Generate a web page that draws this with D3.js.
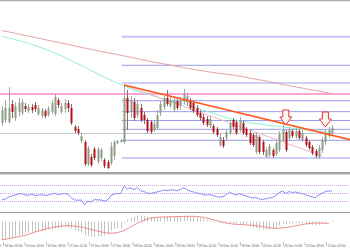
<!DOCTYPE html>
<html><head><meta charset="utf-8">
<script src="https://cdn.jsdelivr.net/npm/d3@7"></script>
<style>body{margin:0;background:#fff}svg{display:block}</style>
</head><body>
<svg id="c" width="350" height="250"></svg>
<script>
// ---- DATA ----
// candles: [open, high, low, close]
const candles = [
[677,694,674,690],[680,700,677,692],[678,713,676,692],[696,700,682,688],[682,698,679,694],
[688,702,684,697],[687,701,685,698],[694,697,688,691],[689,696,687,693],[693,696,687,690],
[695,698,688,691],[686,695,684,692],[684,692,682,690],[689,691,682,684],[685,694,683,691],
[688,700,686,697],[686,706,684,703],[700,702,692,695],[688,697,686,694],[691,701,687,697],
[697,700,688,692],[692,696,675,677],[673,675,667,669],[671,674,665,667],[659,667,657,664],
[658,660,634,636],[636,654,634,652],[643,646,633,635],[651,653,640,642],[638,653,636,651],
[642,652,639,650],[640,642,632,634],[638,640,631,632],[637,658,635,653],[644,660,640,658],
[657,660,656,659],[658,661,657,660],[658,715,656,702],[702,710,670,687],[688,704,682,700],
[698,702,679,682],[685,700,682,696],[692,696,678,680],[685,688,676,680],[680,682,667,669],
[678,680,666,668],[670,679,668,676],[672,690,670,685],[687,699,684,696],[693,704,690,702],
[702,710,694,696],[694,703,692,700],[690,702,688,699],[699,701,690,692],[694,703,690,700],
[698,711,696,706],[697,707,694,704],[700,702,690,692],[697,699,687,689],[692,695,683,685],
[687,690,680,682],[683,686,675,677],[681,684,673,675],[674,684,672,681],[674,676,666,668],
[671,673,663,665],[655,666,653,663],[660,663,652,654],[662,670,659,668],[667,680,665,677],
[680,682,671,673],[678,680,665,667],[670,683,668,680],[677,679,665,667],[671,673,663,665],
[667,670,655,657],[665,667,653,655],[648,667,646,665],[663,665,646,648],[658,660,645,648],
[643,653,642,650],[645,656,643,654],[650,652,642,644],[646,660,644,657],[650,669,648,666],
[660,675,658,670],[668,670,648,650],[662,673,660,670],[669,671,662,664],[663,672,661,669],
[669,671,660,662],[660,670,658,667],[662,664,653,655],[658,660,650,652],[653,655,645,647],
[649,651,642,644],[643,655,641,652],[650,663,647,660],[658,670,655,667],[664,673,662,670],
[667,675,665,672]
];
// moving averages, sampled every 5 candles
const maStep = 5;
const maSlow = [769.5,766,762.5,759,755.5,752,748.5,745.5,742,738.5,735.5,732.5,729.5,727,725,722,719,715.5,712.5,709.5,706.5];
const maFast = [763.5,759.5,754.5,748.5,741,733,724.5,717,710,705,700,696,691,685.5,680.5,677.5,675,673,671,669,667.5];
// fibonacci retracement
const fibRatios = [0,0.236,0.382,0.5,0.618,0.764,1,1.236,1.618];
const fibLow = 642, fibHigh = 717, fibStart = 36.3;
// horizontal levels
const pinkLevel = 706;
const grayLevel = 666.5;
// trend lines [ {i, p}, {i, p} ]
const trendMain = [{i:37,p:715},{i:106,p:660}];
const trendFaint = [{i:37,p:715},{i:97,p:644}];
// arrows (tip positions)
const arrows = [{i:86,p:675},{i:98,p:673}];
// RSI
const rsi = [34,36,41,44,46,49,50,46,46,48,45,46,47,45,46,48,51,47,49,50,48,39,34,33,34,22,31,29,35,34,34,31,34,45,49,50,50,69,61,64,59,65,57,55,51,50,52,54,56,59,57,59,59,57,60,64,60,56,54,51,50,47,46,47,45,42,41,42,47,54,49,46,50,46,44,41,39,40,36,35,37,39,40,45,52,56,50,55,52,54,51,50,46,44,41,40,46,51,55,56,56];
const rsiLevels = [70,50,30];
// MACD
const macd = [-18.5,-18,-17,-16,-15,-14,-13,-12,-11.5,-11,-10.5,-10,-9.5,-9,-8.5,-8,-7,-7,-6.5,-6,-6,-7,-8.5,-10,-11,-14,-14.5,-15.5,-15.5,-15,-15,-14,-13,-9,-7.5,-7,-6.5,-1,2,4,5,6,6,5.5,5,4.5,4,4,4.5,5,5,5,5,4.5,5,5.5,5.5,5,4.5,4,3.5,3,2,1.5,1,0,-1,-2,-2,-1.5,-1.5,-2,-2,-2.5,-3,-5,-6,-6.5,-7.5,-8,-8.5,-8,-7.5,-6,-4,-2.5,-3,-2,-2,-1.5,-2,-2,-2.5,-3,-3.5,-4,-3.5,-2.5,-1,0,0.5];
const signal = [-18.3,-17.8,-17.2,-16.5,-15.9,-15.3,-14.6,-13.8,-12.9,-11.8,-10.6,-9.6,-8.6,-7.7,-6.9,-6.2,-5.5,-5.0,-4.6,-4.3,-4.2,-4.3,-4.6,-5.0,-5.5,-6.3,-7.2,-8.0,-8.8,-9.6,-10.3,-11.0,-11.5,-11.7,-11.5,-11.0,-10.2,-8.9,-7.2,-5.3,-3.5,-1.8,-0.2,1.2,2.4,3.3,3.9,4.2,4.4,4.5,4.6,4.7,4.8,4.9,5.0,5.1,5.2,5.2,5.2,5.0,4.7,4.2,3.5,2.7,1.8,0.8,0,-0.8,-1.5,-2.1,-2.5,-2.8,-3.0,-3.2,-3.4,-3.6,-3.9,-4.2,-4.6,-5.1,-5.7,-6.2,-6.6,-6.8,-6.7,-6.4,-6.0,-5.5,-4.9,-4.2,-3.6,-3.0,-2.5,-2.1,-1.8,-1.6,-1.5,-1.6,-1.8,-1.9];
// time labels
const timeLabels = ["15 Dec 18:00","16 Dec 02:00","16 Dec 10:00","16 Dec 18:00","17 Dec 02:00","17 Dec 10:00","17 Dec 18:00","18 Dec 02:00","18 Dec 10:00","18 Dec 18:00","19 Dec 02:00","19 Dec 10:00","19 Dec 18:00","20 Dec 02:00","20 Dec 10:00","20 Dec 18:00","21 Dec 02:00"];

// ---- DRAW ----
const svg = d3.select('#c');
const x = d3.scaleLinear().domain([0,100]).range([2,332]);
const y = d3.scaleLinear().domain([630,800]).range([170,0]);
const yr = d3.scaleLinear().domain([0,100]).range([213.5,173.5]);
const ym = d3.scaleLinear().domain([-20,8]).range([241.5,213.5]);
const tx = d3.scalePoint().domain(d3.range(timeLabels.length)).range([-18.5,326]);

svg.append('rect').attr('width',350).attr('height',250).attr('fill','#fff');
svg.append('clipPath').attr('id','mainclip').append('rect').attr('x',0).attr('y',1).attr('width',350).attr('height',171);
const main = svg.append('g').attr('clip-path','url(#mainclip)');

// fib levels
fibRatios.forEach(r=>{
  const py = y(fibLow + r*(fibHigh-fibLow));
  main.append('line').attr('x1',x(fibStart)).attr('x2',350).attr('y1',py).attr('y2',py)
    .attr('stroke', r===1.618 ? '#c6c6f4' : '#9c9cec').attr('stroke-width', r===1.618?2:1);
});
// pink & gray levels
main.append('line').attr('x1',0).attr('x2',350).attr('y1',y(pinkLevel)).attr('y2',y(pinkLevel))
  .attr('stroke','#ff86c8').attr('stroke-width',1.6);
main.append('line').attr('x1',0).attr('x2',350).attr('y1',y(grayLevel)).attr('y2',y(grayLevel))
  .attr('stroke','#c4caca').attr('stroke-width',1);

// moving averages
const maLine = d3.line().x((d,k)=>x(k*maStep)).y(d=>y(d)).curve(d3.curveMonotoneX);
main.append('path').attr('d',maLine(maSlow)).attr('fill','none').attr('stroke','#e6a4a4').attr('stroke-width',1);
main.append('path').attr('d',maLine(maFast)).attr('fill','none').attr('stroke','#8ff2d6').attr('stroke-width',1);

// faint trendline
main.append('line').attr('x1',x(trendFaint[0].i)).attr('y1',y(trendFaint[0].p))
  .attr('x2',x(trendFaint[1].i)).attr('y2',y(trendFaint[1].p))
  .attr('stroke','#f3b8b8').attr('stroke-width',1);

// candles
const cg = main.append('g');
candles.forEach((c,i)=>{
  const [o,h,l,cl] = c;
  const bull = cl>=o;
  const cx = Math.round(x(i));
  cg.append('line').attr('x1',cx+0.5).attr('x2',cx+0.5).attr('y1',y(h)).attr('y2',y(l))
    .attr('stroke', bull?'#a4a8a0':'#8a6a6a').attr('stroke-width',1);
  const top = y(Math.max(o,cl)), bot = y(Math.min(o,cl));
  cg.append('rect').attr('x',cx-0.5).attr('y',top).attr('width',2).attr('height',Math.max(1,bot-top))
    .attr('fill', bull?'#8d9c85':'#b3141c');
});

// main trend line
main.append('line').attr('x1',x(trendMain[0].i)).attr('y1',y(trendMain[0].p))
  .attr('x2',x(trendMain[1].i)).attr('y2',y(trendMain[1].p))
  .attr('stroke','#ff5a1e').attr('stroke-width',1.6);

// arrows
arrows.forEach(a=>{
  const ax = x(a.i), ay = y(a.p);
  const p = `M${ax},${ay} L${ax-6},${ay-8} L${ax-3},${ay-8} L${ax-3},${ay-15} L${ax+3},${ay-15} L${ax+3},${ay-8} L${ax+6},${ay-8} Z`;
  main.append('path').attr('d',p).attr('fill','#fff6f6').attr('stroke','#e63232').attr('stroke-width',1);
});

// borders / separators
svg.append('rect').attr('x',0).attr('y',0).attr('width',350).attr('height',1.2).attr('fill','#a8a8a8');
svg.append('rect').attr('x',0).attr('y',172).attr('width',350).attr('height',2.4).attr('fill','#a4a4a4');
svg.append('rect').attr('x',0).attr('y',212).attr('width',350).attr('height',1).attr('fill','#9a9a9a');

// RSI
rsiLevels.forEach(v=>{
  svg.append('line').attr('x1',0).attr('x2',350).attr('y1',yr(v)).attr('y2',yr(v))
    .attr('stroke','#d6a2ec').attr('stroke-width',1).attr('stroke-dasharray','1,1');
});
svg.append('path').attr('d',d3.line().x((d,i)=>x(i)).y(d=>yr(d))(rsi))
  .attr('fill','none').attr('stroke','#8a8af8').attr('stroke-width',1);

// MACD
macd.forEach((v,i)=>{
  svg.append('line').attr('x1',Math.round(x(i))+0.5).attr('x2',Math.round(x(i))+0.5)
    .attr('y1',ym(0)).attr('y2',ym(v)).attr('stroke','#c2c2c2').attr('stroke-width',1);
});
svg.append('path').attr('d',d3.line().x((d,i)=>x(i)).y(d=>ym(d))(signal))
  .attr('fill','none').attr('stroke','#f08c8c').attr('stroke-width',1);

// time axis
timeLabels.forEach((t,k)=>{
  const px = tx(k);
  svg.append('line').attr('x1',px+0.5).attr('x2',px+0.5).attr('y1',242).attr('y2',246)
    .attr('stroke','#999').attr('stroke-width',0.6);
  svg.append('text').attr('x',px+1.5).attr('y',246.5).text(t)
    .attr('font-family','Liberation Sans, Arial, sans-serif').attr('font-size',3)
    .attr('fill','#555');
});
</script>
</body></html>
